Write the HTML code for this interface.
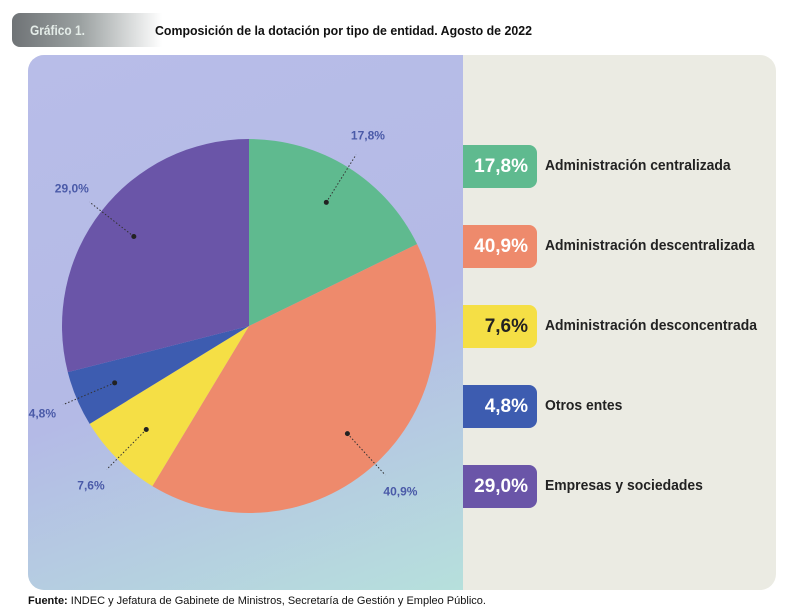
<!DOCTYPE html>
<html><head><meta charset="utf-8"><style>
body{margin:0;width:800px;height:612px;background:#fff;font-family:"Liberation Sans",sans-serif;position:relative;overflow:hidden}
.hdr{position:absolute;left:12px;top:13px;width:150px;height:34px;border-radius:8px 0 0 8px;background:linear-gradient(90deg,#6f7376 0%,#9aa0a0 45%,#fff 100%)}
.hdr span{position:absolute;left:18px;top:9px;color:#e4ece8;font-weight:bold;font-size:14px;transform:scaleX(.85);transform-origin:left}
.title{position:absolute;left:155px;top:23px;font-weight:bold;font-size:13px;color:#111;transform:scaleX(.95);transform-origin:left}
.panel{position:absolute;left:28px;top:55px;width:748px;height:535px;border-radius:16px;overflow:hidden;background:#ebebe3}
.left{position:absolute;left:0;top:0;width:435px;height:535px;background:linear-gradient(160deg,#b8bde8 0%,#b4bae6 55%,#b6e0dc 100%)}
.lg{position:absolute;left:463px;width:74px;height:43px;border-radius:0 8px 8px 0;color:#fff;font-weight:bold;font-size:19px;text-align:right;line-height:43px;box-sizing:border-box;padding-right:9px}
.lt{position:absolute;left:545px;font-weight:bold;font-size:14.5px;color:#222;transform:scaleX(.96);transform-origin:left}
.foot{position:absolute;left:28px;top:595px;font-size:11px;color:#111}
</style></head><body>
<div class="hdr"><span>Gráfico 1.</span></div>
<div class="title">Composición de la dotación por tipo de entidad. Agosto de 2022</div>
<div class="panel"><div class="left"></div></div>
<svg id="pie" width="800" height="612" style="position:absolute;left:0;top:0"></svg>
<div id="legend"></div>
<div class="foot"><b>Fuente:</b> INDEC y Jefatura de Gabinete de Ministros, Secretaría de Gestión y Empleo Público.</div>
<script>
const categories=["Administración centralizada","Administración descentralizada","Administración desconcentrada","Otros entes","Empresas y sociedades"];
const values=[17.8,40.9,7.6,4.8,29.0];
const valueLabels=["17,8%","40,9%","7,6%","4,8%","29,0%"];
const colors=["#5fba8f","#ee8a6c","#f5df45","#3d5cb0","#6a55a8"];
const cx=249,cy=326,R=187;
const svg=document.getElementById('pie');const NS="http://www.w3.org/2000/svg";
const total=values.reduce((a,b)=>a+b,0);
let a0=0;
function pt(a,r){return [cx+r*Math.sin(a),cy-r*Math.cos(a)];}
values.forEach((v,i)=>{
 const a1=a0+v/total*2*Math.PI;
 const p0=pt(a0,R),p1=pt(a1,R);
 const path=document.createElementNS(NS,'path');
 path.setAttribute('d',`M${cx},${cy}L${p0[0]},${p0[1]}A${R},${R} 0 ${a1-a0>Math.PI?1:0} 1 ${p1[0]},${p1[1]}Z`);
 path.setAttribute('fill',colors[i]);
 
 
 svg.appendChild(path);
 const am=(a0+a1)/2;
 const d=pt(am,R*0.78),e=pt(am,R*1.08),t=pt(am,R*1.2);
 const ln=document.createElementNS(NS,'line');
 ln.setAttribute('x1',d[0]);ln.setAttribute('y1',d[1]);ln.setAttribute('x2',e[0]);ln.setAttribute('y2',e[1]);
 ln.setAttribute('stroke','#333');ln.setAttribute('stroke-dasharray','1.5 2');
 
 
 svg.appendChild(ln);
 const c=document.createElementNS(NS,'circle');
 c.setAttribute('cx',d[0]);c.setAttribute('cy',d[1]);c.setAttribute('r',2.5);c.setAttribute('fill','#222');
 
 
 svg.appendChild(c);
 const tx=document.createElementNS(NS,'text');
 tx.setAttribute('x',t[0]);tx.setAttribute('y',t[1]+4);tx.setAttribute('text-anchor','middle');
 tx.setAttribute('font-size','12');tx.setAttribute('font-weight','bold');tx.setAttribute('fill','#4a5aa8');
 tx.textContent=valueLabels[i];
 
 
 svg.appendChild(tx);
 a0=a1;
});
const lg=document.getElementById('legend');
categories.forEach((c,i)=>{
 const y=145+i*80;
 const b=document.createElement('div');b.className='lg';b.style.top=y+'px';b.style.background=colors[i];
 if(i==2)b.style.color='#222';
 b.textContent=valueLabels[i];
 
 
 lg.appendChild(b);
 const t=document.createElement('div');t.className='lt';t.style.top=(y+13)+'px';t.textContent=c;
 
 
 lg.appendChild(t);
});
</script>
</body></html>
